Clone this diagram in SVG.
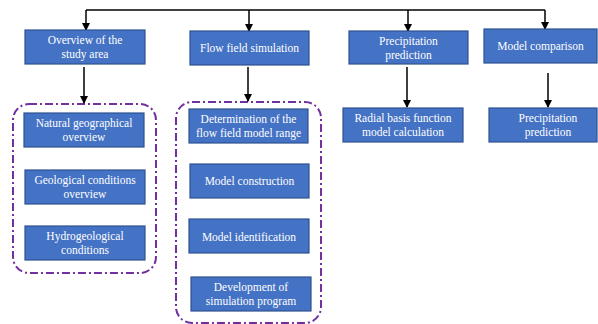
<svg xmlns="http://www.w3.org/2000/svg" width="598" height="324" viewBox="0 0 598 324">
<style>
.box{fill:#4472C4;stroke:#2F528F;stroke-width:1.2}
.t{font-family:"Liberation Serif","Times New Roman",serif;font-size:11.5px;fill:#ffffff;text-anchor:middle}
.ln{fill:none;stroke:#000;stroke-width:1.5}
.grp{fill:none;stroke:#7030A0;stroke-width:2;stroke-dasharray:8 3 2 3}
</style>
<defs>
<marker id="ah" markerWidth="8" markerHeight="8" refX="7" refY="4" orient="auto" markerUnits="userSpaceOnUse">
<path d="M0,0 L8,4 L0,8 Z" fill="#000"/>
</marker>
</defs>
<rect width="598" height="324" fill="#fff"/>
<g id="groups">
<rect id="group-study" class="grp" x="13" y="104" width="143" height="169" rx="16"/>
<rect id="group-flow" class="grp" x="176" y="102" width="145" height="221" rx="16"/>
</g>
<g id="connectors">
<path class="ln" d="M86,10 H545"/>
<path class="ln" d="M86,10 V30" marker-end="url(#ah)"/>
<path class="ln" d="M249,10 V31" marker-end="url(#ah)"/>
<path class="ln" d="M408,10 V31" marker-end="url(#ah)"/>
<path class="ln" d="M545,10 V29" marker-end="url(#ah)"/>
<path class="ln" d="M84,67 V103" marker-end="url(#ah)"/>
<path class="ln" d="M248,67 V101" marker-end="url(#ah)"/>
<path class="ln" d="M407,67 V107" marker-end="url(#ah)"/>
<path class="ln" d="M548,73 V107" marker-end="url(#ah)"/>
</g>
<g id="n1"><rect class="box" x="25" y="30" width="120" height="34"/><text class="t" x="85" y="44">Overview of the</text><text class="t" x="85" y="58">study area</text></g>
<g id="n2"><rect class="box" x="190" y="31" width="119" height="34"/><text class="t" x="249.5" y="52">Flow field simulation</text></g>
<g id="n3"><rect class="box" x="349" y="31" width="119" height="33"/><text class="t" x="408.5" y="45">Precipitation</text><text class="t" x="408.5" y="59">prediction</text></g>
<g id="n4"><rect class="box" x="484" y="29" width="113" height="34"/><text class="t" x="540.5" y="50">Model comparison</text></g>
<g id="n5"><rect class="box" x="24" y="113" width="120" height="34"/><text class="t" x="84" y="127">Natural geographical</text><text class="t" x="84" y="141">overview</text></g>
<g id="n6"><rect class="box" x="25" y="170" width="120" height="34"/><text class="t" x="85" y="184">Geological conditions</text><text class="t" x="85" y="198">overview</text></g>
<g id="n7"><rect class="box" x="25" y="226" width="120" height="34"/><text class="t" x="85" y="240">Hydrogeological</text><text class="t" x="85" y="254">conditions</text></g>
<g id="n8"><rect class="box" x="189" y="109" width="119" height="34"/><text class="t" x="248.5" y="123">Determination of the</text><text class="t" x="248.5" y="137">flow field model range</text></g>
<g id="n9"><rect class="box" x="190" y="164" width="119" height="34"/><text class="t" x="249.5" y="185">Model construction</text></g>
<g id="n10"><rect class="box" x="189" y="219" width="120" height="34"/><text class="t" x="249" y="241">Model identification</text></g>
<g id="n11"><rect class="box" x="191" y="277" width="120" height="34"/><text class="t" x="251" y="291">Development of</text><text class="t" x="251" y="305">simulation program</text></g>
<g id="n12"><rect class="box" x="343" y="108" width="120" height="34"/><text class="t" x="403" y="122">Radial basis function</text><text class="t" x="403" y="136">model calculation</text></g>
<g id="n13"><rect class="box" x="489" y="108" width="108" height="34"/><text class="t" x="548" y="122">Precipitation</text><text class="t" x="548" y="136">prediction</text></g>
</svg>
